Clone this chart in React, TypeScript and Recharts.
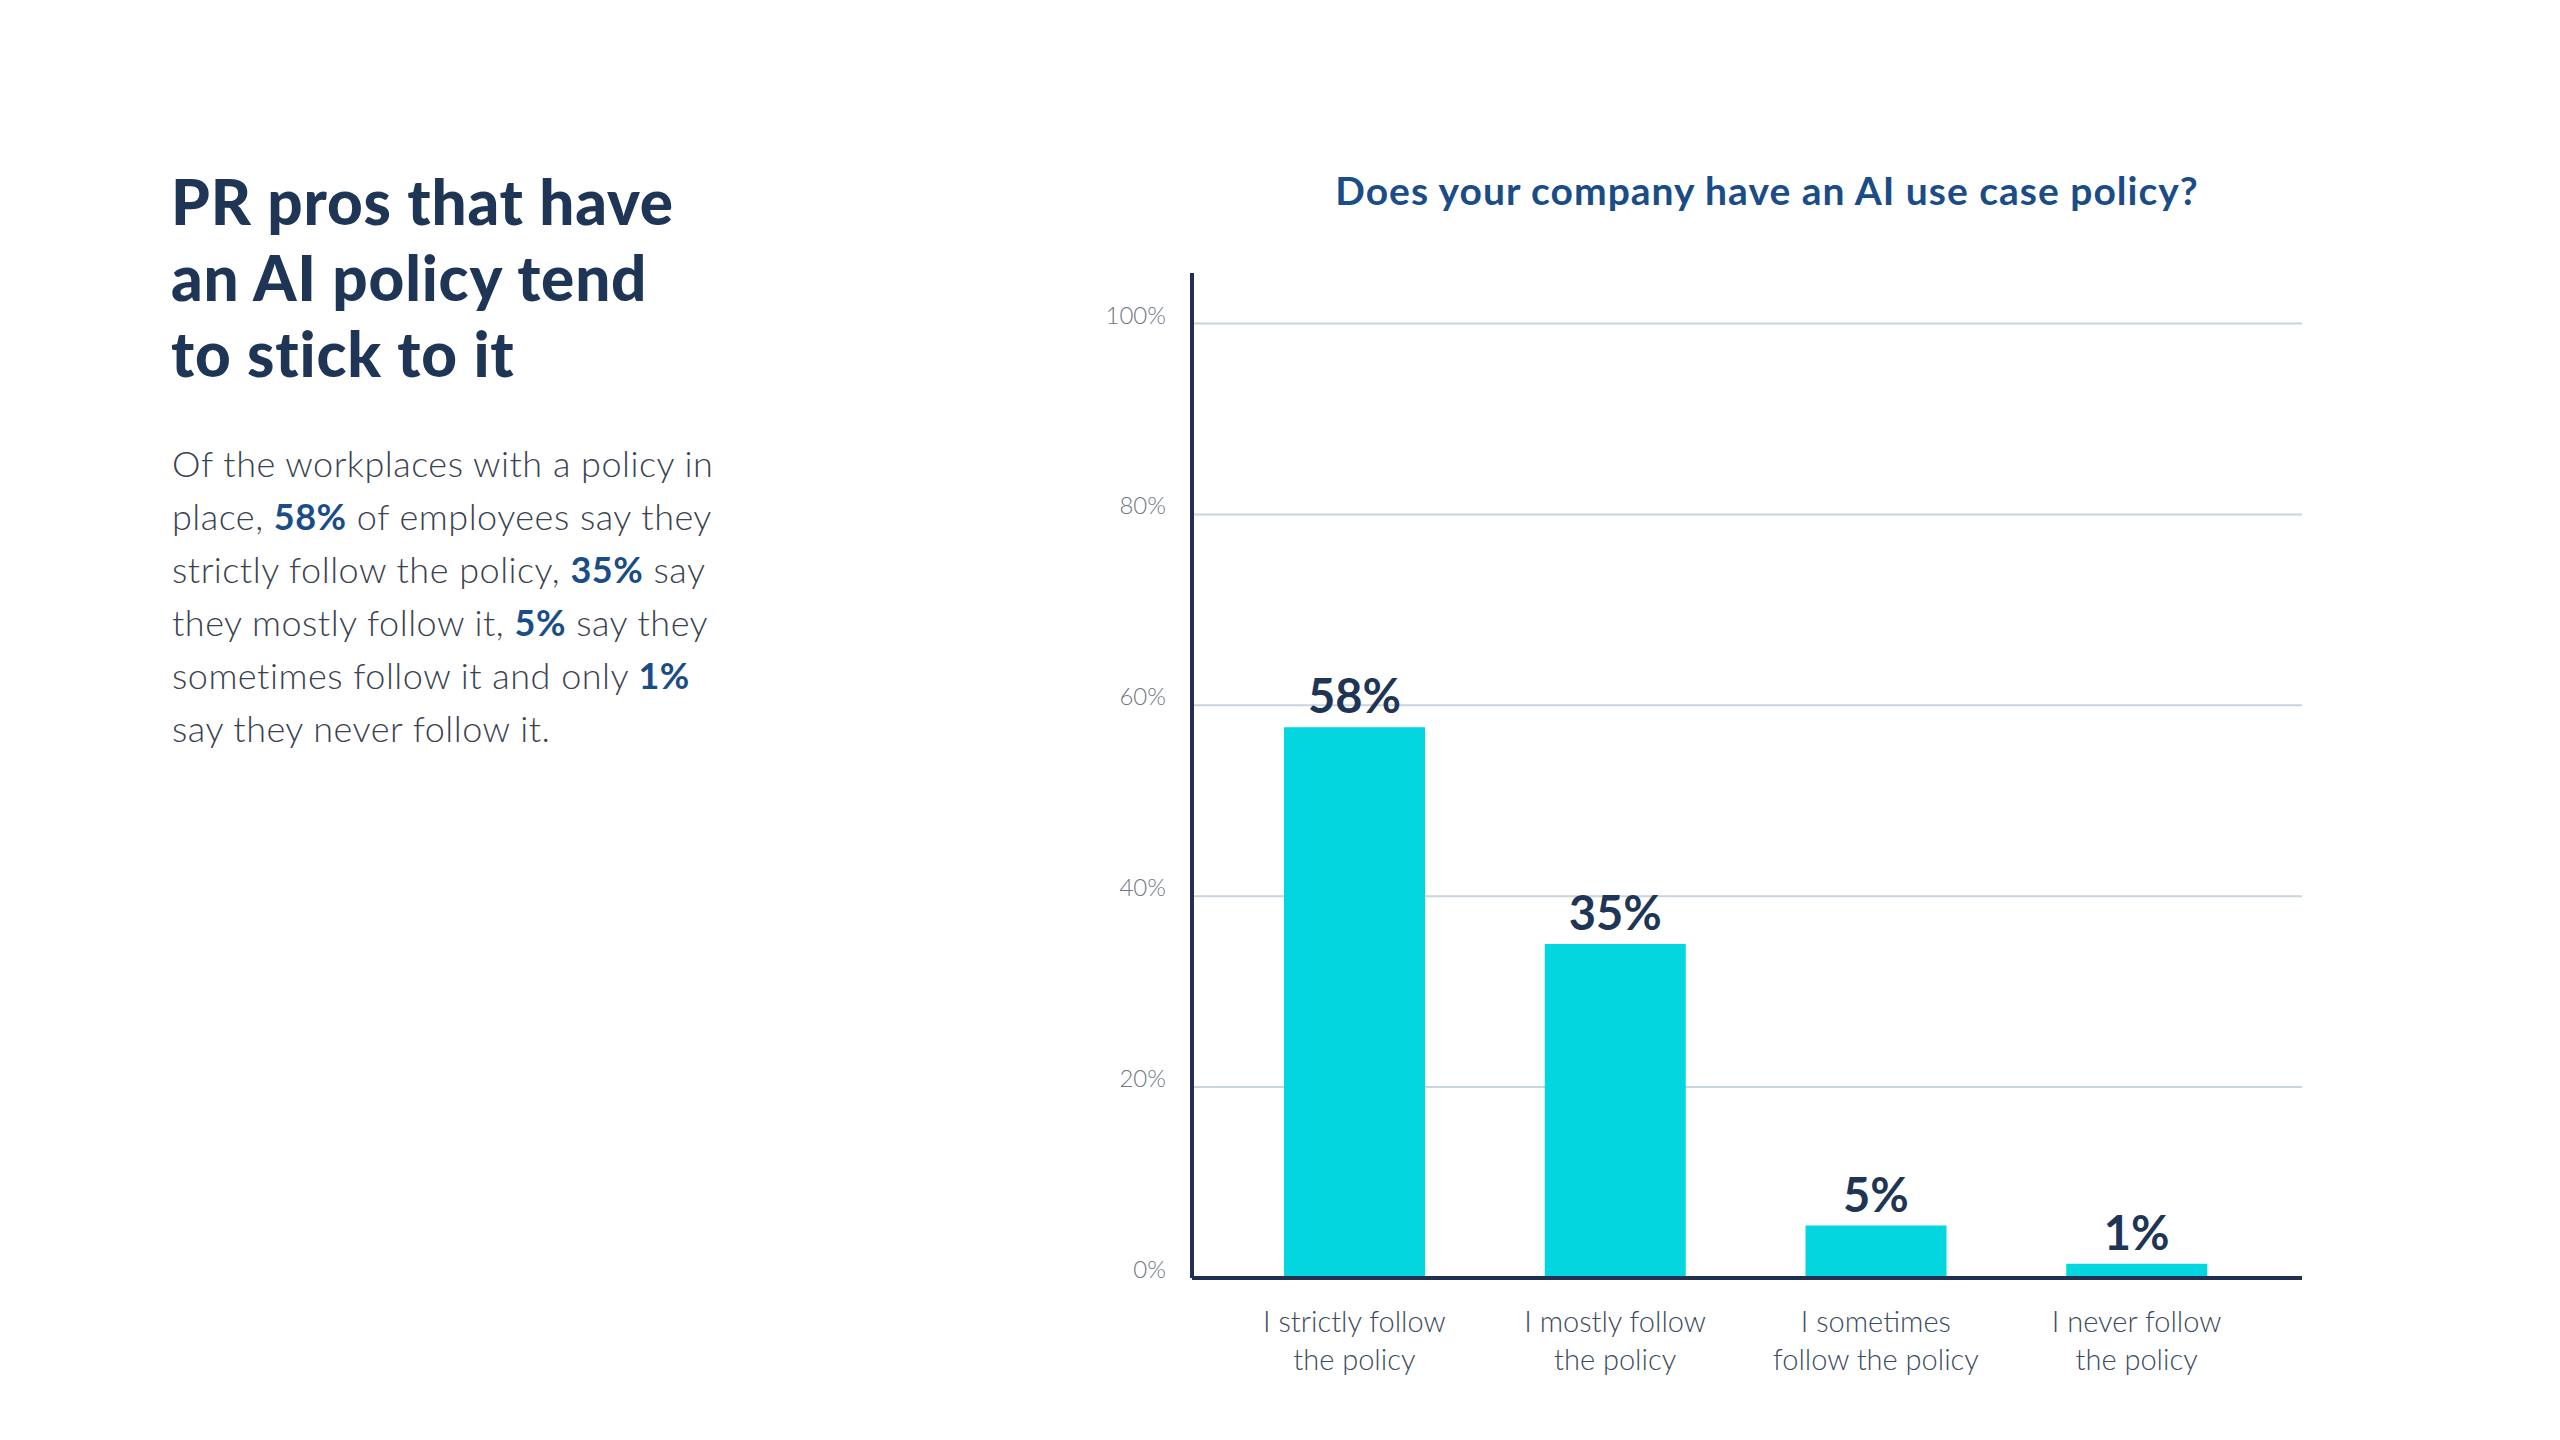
import React from 'react';
import { BarChart, Bar, XAxis, YAxis, CartesianGrid, LabelList } from 'recharts';

const categories = [
  'I strictly follow\nthe policy',
  'I mostly follow\nthe policy',
  'I sometimes\nfollow the policy',
  'I never follow\nthe policy',
];
const shares = [57.7, 35, 5.5, 1.5];
const shareLabels = ['58%', '35%', '5%', '1%'];
const yTicks = [0, 20, 40, 60, 80, 100];

const data = categories.map((category, i) => ({ category, value: shares[i], label: shareLabels[i] }));

const FONT = "Lato, 'Open Sans', sans-serif";
const NAVY = '#1f3556';
const BLUE = '#1a4d88';
const CYAN = '#03d6df';

const XTick = ({ x, y, payload }: any) => {
  const lines = String(payload.value).split('\n');
  return (
    <text x={x} y={y} textAnchor="middle" fill="#3d4b5f" fontSize={29} fontWeight={300} fontFamily={FONT}>
      {lines.map((line, i) => (
        <tspan key={i} x={x} dy={i === 0 ? 54 : 38}>
          {line}
        </tspan>
      ))}
    </text>
  );
};

const YTick = ({ x, y, payload }: any) => (
  <text x={x} y={y} textAnchor="end" fill="#6f7782" fontSize={24} fontWeight={300} fontFamily={FONT}>
    {payload.value}%
  </text>
);

const B = ({ children }: { children: React.ReactNode }) => (
  <span style={{ fontWeight: 700, color: BLUE }}>{children}</span>
);

export default function App() {
  return (
    <div style={{ position: 'absolute', left: 0, top: 0, width: 2560, height: 1440, background: '#fff', fontFamily: FONT }}>
      <div
        style={{
          position: 'absolute',
          left: 171,
          top: 163,
          fontSize: 62,
          lineHeight: '76px',
          fontWeight: 900,
          letterSpacing: 0.8,
          color: NAVY,
          whiteSpace: 'nowrap',
        }}
      >
        PR pros that have
        <br />
        an AI policy tend
        <br />
        to stick to it
      </div>

      <div
        style={{
          position: 'absolute',
          left: 172,
          top: 437,
          fontSize: 36,
          lineHeight: '53px',
          fontWeight: 300,
          letterSpacing: 0.5,
          color: '#3a4250',
          whiteSpace: 'nowrap',
        }}
      >
        Of the workplaces with a policy in
        <br />
        place, <B>58%</B> of employees say they
        <br />
        strictly follow the policy, <B>35%</B> say
        <br />
        they mostly follow it, <B>5%</B> say they
        <br />
        sometimes follow it and only <B>1%</B>
        <br />
        say they never follow it.
      </div>

      <div
        style={{
          position: 'absolute',
          left: 1267,
          top: 171,
          width: 1000,
          textAlign: 'center',
          fontSize: 39,
          lineHeight: '38px',
          fontWeight: 700,
          letterSpacing: 1,
          color: BLUE,
          whiteSpace: 'nowrap',
        }}
      >
        Does your company have an AI use case policy?
      </div>

      <div style={{ position: 'absolute', left: 1000, top: 0 }}>
        <BarChart width={1400} height={1440} data={data} margin={{ top: 273, right: 98, bottom: 42, left: 0 }}>
          <CartesianGrid
            vertical={false}
            stroke="#c8d5dd"
            strokeWidth={2}
            horizontalValues={yTicks}
          />
          <XAxis
            dataKey="category"
            height={120}
            interval={0}
            tickLine={false}
            tickSize={0}
            tickMargin={0}
            padding={{ left: 32, right: 35 }}
            axisLine={{ stroke: '#1f3050', strokeWidth: 4 }}
            tick={<XTick />}
          />
          <YAxis
            width={192}
            domain={[0, 105.3]}
            ticks={yTicks}
            allowDataOverflow
            tickLine={false}
            tickSize={0}
            tickMargin={26}
            axisLine={{ stroke: '#1f3050', strokeWidth: 4 }}
            tick={<YTick />}
          />
          <Bar dataKey="value" fill={CYAN} barSize={141} isAnimationActive={false}>
            <LabelList
              dataKey="label"
              position="top"
              offset={14}
              fill={NAVY}
              fontSize={47}
              fontWeight={700}
              fontFamily={FONT}
            />
          </Bar>
        </BarChart>
      </div>
    </div>
  );
}
